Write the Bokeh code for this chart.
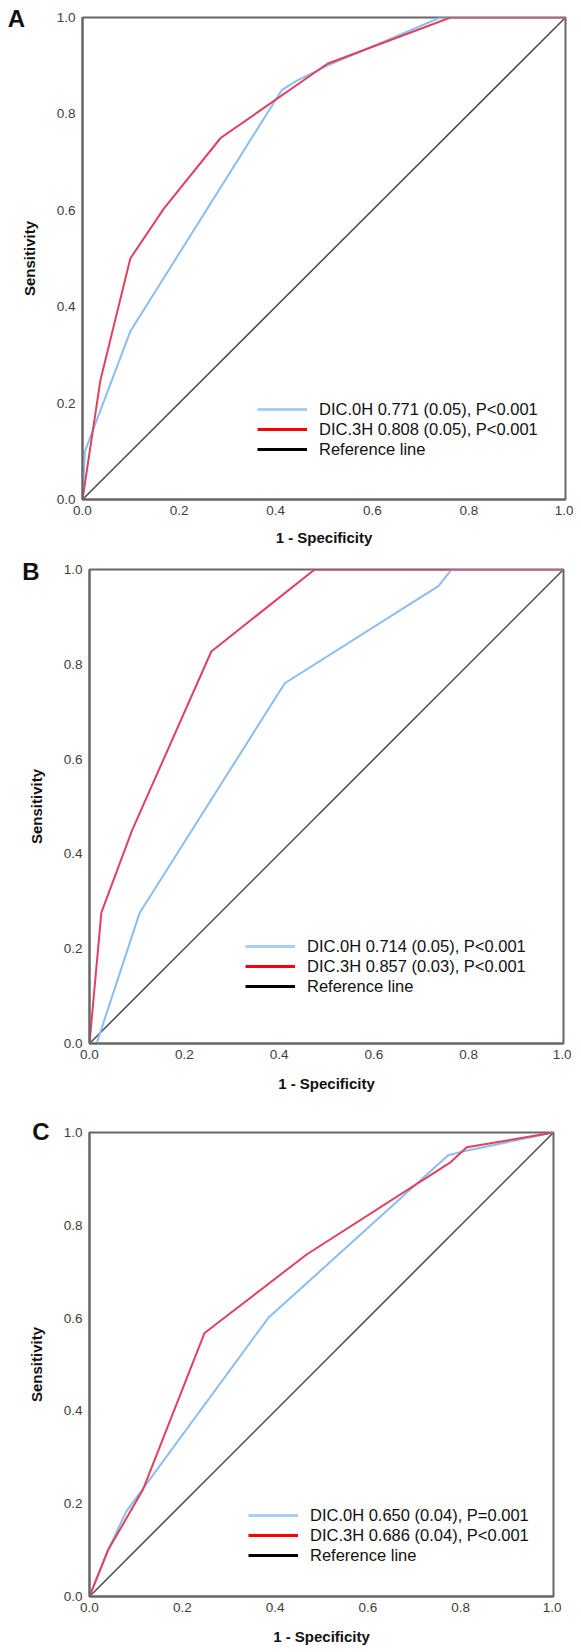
from bokeh.plotting import figure
from bokeh.models import (Range1d, FixedTicker, PrintfTickFormatter, Legend,
                          LegendItem, Label)
from bokeh.embed import file_html
from bokeh.resources import INLINE

# ---------------- data ----------------
TICKS = [0.0, 0.2, 0.4, 0.6, 0.8, 1.0]
X_LABEL = "1 - Specificity"
Y_LABEL = "Sensitivity"
PANEL_LETTERS = ["A", "B", "C"]

REF_X = [0.0, 1.0]
REF_Y = [0.0, 1.0]
NAN = [float("nan")]

# Panel A
A_0H_FPR = [0.0, 0.005, 0.099, 0.413, 0.444, 0.507, 0.741, 1.0]
A_0H_TPR = [0.0, 0.100, 0.349, 0.850, 0.869, 0.900, 1.0, 1.0]
A_3H_FPR = [0.0, 0.037, 0.099, 0.168, 0.286, 0.507, 0.762, 1.0]
A_3H_TPR = [0.0, 0.247, 0.500, 0.603, 0.750, 0.904, 1.0, 1.0]
A_LABELS = ["DIC.0H 0.771 (0.05), P<0.001",
            "DIC.3H 0.808 (0.05), P<0.001",
            "Reference line"]

# Panel B
B_0H_FPR = [0.0, 0.015, 0.106, 0.412, 0.736, 0.764, 1.0]
B_0H_TPR = [0.0, 0.0, 0.276, 0.760, 0.965, 1.0, 1.0]
B_3H_FPR = [0.0, 0.025, 0.090, 0.257, 0.475, 1.0]
B_3H_TPR = [0.0, 0.276, 0.450, 0.827, 1.0, 1.0]
B_LABELS = ["DIC.0H 0.714 (0.05), P<0.001",
            "DIC.3H 0.857 (0.03), P<0.001",
            "Reference line"]

# Panel C
C_0H_FPR = [0.0, 0.040, 0.079, 0.385, 0.773, 0.809, 1.0]
C_0H_TPR = [0.0, 0.100, 0.183, 0.600, 0.951, 0.960, 1.0]
C_3H_FPR = [0.0, 0.040, 0.115, 0.248, 0.468, 0.777, 0.813, 1.0]
C_3H_TPR = [0.0, 0.100, 0.230, 0.568, 0.737, 0.935, 0.968, 1.0]
C_LABELS = ["DIC.0H 0.650 (0.04), P=0.001",
            "DIC.3H 0.686 (0.04), P<0.001",
            "Reference line"]

# ---------------- styling ----------------
FONT = "Liberation Sans"
FRAME_COLOR = "#666666"
BLUE = "#8dbdf0"
RED = "#e2405f"
LEG_BLUE = "#a8cff0"
LEG_RED = "#ff0000"
LEG_BLACK = "#000000"
REF_COLOR = "#4a4a4a"
BORDER_RIGHT = 8


def make_panel(letter, fpr0, tpr0, fpr3, tpr3, labels, geom):
    fw, fh = geom["fw"], geom["fh"]
    p = figure(width=geom["bl"] + fw + BORDER_RIGHT,
               height=geom["bt"] + fh + geom["bb"],
               x_range=Range1d(0, 1), y_range=Range1d(0, 1),
               output_backend="svg", toolbar_location=None,
               min_border_left=geom["bl"], min_border_right=BORDER_RIGHT,
               min_border_top=geom["bt"], min_border_bottom=geom["bb"])
    p.xgrid.visible = False
    p.ygrid.visible = False
    p.background_fill_color = "white"
    p.border_fill_color = "white"
    p.outline_line_color = FRAME_COLOR
    p.outline_line_width = 2

    for ax in (p.xaxis[0], p.yaxis[0]):
        ax.ticker = FixedTicker(ticks=TICKS)
        ax.formatter = PrintfTickFormatter(format="%.1f")
        ax.axis_line_color = FRAME_COLOR
        ax.axis_line_width = 2
        ax.major_tick_line_color = None
        ax.minor_tick_line_color = None
        ax.major_tick_out = 0
        ax.major_tick_in = 0
        ax.major_label_text_font = FONT
        ax.major_label_text_font_size = "13.5px"
        ax.major_label_text_color = "#404040"
        ax.axis_label_text_font = FONT
        ax.axis_label_text_font_style = "bold"
        ax.axis_label_text_font_size = "15px"
        ax.axis_label_text_color = "#111111"
    p.xaxis.axis_label = X_LABEL
    p.yaxis.axis_label = Y_LABEL
    p.xaxis.major_label_standoff = 6
    p.xaxis.axis_label_standoff = geom["xls"]
    p.yaxis.major_label_standoff = 7
    p.yaxis.axis_label_standoff = 16

    p.line(REF_X, REF_Y, line_color=REF_COLOR, line_width=1.5)
    p.line(fpr0, tpr0, line_color=BLUE, line_width=2)
    p.line(fpr3, tpr3, line_color=RED, line_width=2)

    # legend samples (not visible in the plot area)
    d0 = p.line(NAN, NAN, line_color=LEG_BLUE, line_width=3)
    d3 = p.line(NAN, NAN, line_color=LEG_RED, line_width=3)
    dr = p.line(NAN, NAN, line_color=LEG_BLACK, line_width=3)
    legend = Legend(items=[LegendItem(label=labels[0], renderers=[d0]),
                           LegendItem(label=labels[1], renderers=[d3]),
                           LegendItem(label=labels[2], renderers=[dr])],
                    location=geom["leg"], glyph_width=50, glyph_height=20,
                    label_height=20, label_standoff=12, spacing=0,
                    padding=0, margin=0, border_line_color=None,
                    background_fill_alpha=0, label_text_font=FONT,
                    label_text_font_size="16.5px", label_text_color="#111111")
    p.add_layout(legend)

    # panel letter, placed in the left border (side panels are not clipped)
    p.add_layout(Label(x=geom["lx"], y=geom["ly"], text=letter,
                       text_font=FONT, text_font_style="bold",
                       text_font_size="24px", text_color="#111111",
                       text_align="left", text_baseline="alphabetic"),
                 "left")
    return p


GEOM_A = dict(bl=82, fw=483, fh=482, bt=17, bb=50, xls=11, leg=(175, 40),
              lx=-0.155, ly=0.998)
GEOM_B = dict(bl=89, fw=474, fh=474, bt=20, bb=70, xls=13, leg=(156, 47),
              lx=-0.142, ly=0.9958)
GEOM_C = dict(bl=89, fw=464, fh=464, bt=19, bb=56, xls=13, leg=(159, 31),
              lx=-0.1235, ly=1.0015)

pA = make_panel(PANEL_LETTERS[0], A_0H_FPR, A_0H_TPR, A_3H_FPR, A_3H_TPR,
                A_LABELS, GEOM_A)
pB = make_panel(PANEL_LETTERS[1], B_0H_FPR, B_0H_TPR, B_3H_FPR, B_3H_TPR,
                B_LABELS, GEOM_B)
pC = make_panel(PANEL_LETTERS[2], C_0H_FPR, C_0H_TPR, C_3H_FPR, C_3H_TPR,
                C_LABELS, GEOM_C)

# three separate roots, stacked one below the other on the page
open("out.html", "w").write(file_html([pA, pB, pC], INLINE))
